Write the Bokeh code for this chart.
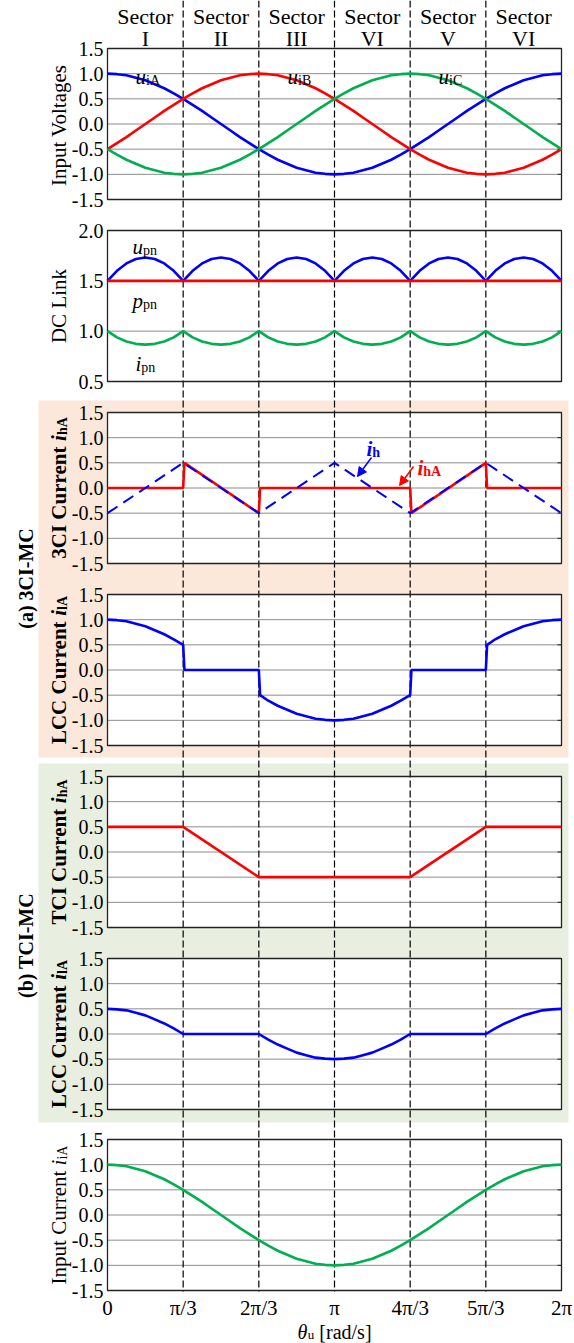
import math
from bokeh.plotting import figure
from bokeh.models import Range1d, Arrow, NormalHead
from bokeh.core.properties import value
from bokeh.embed import file_html
from bokeh.resources import INLINE

# ---------------------------------------------------------------- data
theta = [0, 7.5, 15, 22.5, 30, 37.5, 45, 52.5, 60, 67.5, 75, 82.5, 90, 97.5, 105, 112.5,
         120, 127.5, 135, 142.5, 150, 157.5, 165, 172.5, 180, 187.5, 195, 202.5, 210, 217.5,
         225, 232.5, 240, 247.5, 255, 262.5, 270, 277.5, 285, 292.5, 300, 307.5, 315, 322.5,
         330, 337.5, 345, 352.5, 360]

u_iA = [1.00, 0.99, 0.97, 0.92, 0.87, 0.79, 0.71, 0.61, 0.50, 0.38, 0.26, 0.13, 0.00, -0.13,
        -0.26, -0.38, -0.50, -0.61, -0.71, -0.79, -0.87, -0.92, -0.97, -0.99, -1.00, -0.99,
        -0.97, -0.92, -0.87, -0.79, -0.71, -0.61, -0.50, -0.38, -0.26, -0.13, 0.00, 0.13, 0.26,
        0.38, 0.50, 0.61, 0.71, 0.79, 0.87, 0.92, 0.97, 0.99, 1.00]
u_iB = [-0.50, -0.38, -0.26, -0.13, 0.00, 0.13, 0.26, 0.38, 0.50, 0.61, 0.71, 0.79, 0.87, 0.92,
        0.97, 0.99, 1.00, 0.99, 0.97, 0.92, 0.87, 0.79, 0.71, 0.61, 0.50, 0.38, 0.26, 0.13, 0.00,
        -0.13, -0.26, -0.38, -0.50, -0.61, -0.71, -0.79, -0.87, -0.92, -0.97, -0.99, -1.00,
        -0.99, -0.97, -0.92, -0.87, -0.79, -0.71, -0.61, -0.50]
u_iC = [-0.50, -0.61, -0.71, -0.79, -0.87, -0.92, -0.97, -0.99, -1.00, -0.99, -0.97, -0.92,
        -0.87, -0.79, -0.71, -0.61, -0.50, -0.38, -0.26, -0.13, 0.00, 0.13, 0.26, 0.38, 0.50,
        0.61, 0.71, 0.79, 0.87, 0.92, 0.97, 0.99, 1.00, 0.99, 0.97, 0.92, 0.87, 0.79, 0.71,
        0.61, 0.50, 0.38, 0.26, 0.13, 0.00, -0.13, -0.26, -0.38, -0.50]

u_pn = [1.500, 1.600, 1.673, 1.717, 1.732, 1.717, 1.673, 1.600,
        1.500, 1.600, 1.673, 1.717, 1.732, 1.717, 1.673, 1.600,
        1.500, 1.600, 1.673, 1.717, 1.732, 1.717, 1.673, 1.600,
        1.500, 1.600, 1.673, 1.717, 1.732, 1.717, 1.673, 1.600,
        1.500, 1.600, 1.673, 1.717, 1.732, 1.717, 1.673, 1.600,
        1.500, 1.600, 1.673, 1.717, 1.732, 1.717, 1.673, 1.600, 1.500]
i_pn = [1.000, 0.938, 0.897, 0.874, 0.866, 0.874, 0.897, 0.938,
        1.000, 0.938, 0.897, 0.874, 0.866, 0.874, 0.897, 0.938,
        1.000, 0.938, 0.897, 0.874, 0.866, 0.874, 0.897, 0.938,
        1.000, 0.938, 0.897, 0.874, 0.866, 0.874, 0.897, 0.938,
        1.000, 0.938, 0.897, 0.874, 0.866, 0.874, 0.897, 0.938,
        1.000, 0.938, 0.897, 0.874, 0.866, 0.874, 0.897, 0.938, 1.000]
p_pn_theta = [0, 360]
p_pn = [1.5, 1.5]

# 3CI-MC: injected current reference and phase-A injected current
i_h_theta = [0, 60, 120, 180, 240, 300, 360]
i_h = [-0.5, 0.5, -0.5, 0.5, -0.5, 0.5, -0.5]
i_hA3_theta = [0, 60, 61, 120, 121, 240, 241, 300, 301, 360]
i_hA3 = [0.0, 0.0, 0.5, -0.5, 0.0, 0.0, -0.5, 0.5, 0.0, 0.0]

# 3CI-MC: LCC phase-A current
i_lA3_theta = [0, 7.5, 15, 22.5, 30, 37.5, 45, 52.5, 60, 61, 120,
               121, 127.5, 135, 142.5, 150, 157.5, 165, 172.5, 180, 187.5, 195, 202.5, 210,
               217.5, 225, 232.5, 240, 241, 300,
               301, 307.5, 315, 322.5, 330, 337.5, 345, 352.5, 360]
i_lA3 = [1.00, 0.99, 0.97, 0.92, 0.87, 0.79, 0.71, 0.61, 0.50, 0.00, 0.00,
         -0.50, -0.61, -0.71, -0.79, -0.87, -0.92, -0.97, -0.99, -1.00, -0.99, -0.97, -0.92,
         -0.87, -0.79, -0.71, -0.61, -0.50, 0.00, 0.00,
         0.50, 0.61, 0.71, 0.79, 0.87, 0.92, 0.97, 0.99, 1.00]

# TCI-MC: injected current and LCC phase-A current
i_hAT_theta = [0, 60, 120, 240, 300, 360]
i_hAT = [0.5, 0.5, -0.5, -0.5, 0.5, 0.5]
i_lAT_theta = [0, 7.5, 15, 22.5, 30, 37.5, 45, 52.5, 60,
               120, 127.5, 135, 142.5, 150, 157.5, 165, 172.5, 180, 187.5, 195, 202.5, 210,
               217.5, 225, 232.5, 240,
               300, 307.5, 315, 322.5, 330, 337.5, 345, 352.5, 360]
i_lAT = [0.50, 0.49, 0.47, 0.42, 0.37, 0.29, 0.21, 0.11, 0.00,
         0.00, -0.11, -0.21, -0.29, -0.37, -0.42, -0.47, -0.49, -0.50, -0.49, -0.47, -0.42,
         -0.37, -0.29, -0.21, -0.11, 0.00,
         0.00, 0.11, 0.21, 0.29, 0.37, 0.42, 0.47, 0.49, 0.50]

# input phase-A current
i_iA = [1.00, 0.99, 0.97, 0.92, 0.87, 0.79, 0.71, 0.61, 0.50, 0.38, 0.26, 0.13, 0.00, -0.13,
        -0.26, -0.38, -0.50, -0.61, -0.71, -0.79, -0.87, -0.92, -0.97, -0.99, -1.00, -0.99,
        -0.97, -0.92, -0.87, -0.79, -0.71, -0.61, -0.50, -0.38, -0.26, -0.13, 0.00, 0.13, 0.26,
        0.38, 0.50, 0.61, 0.71, 0.79, 0.87, 0.92, 0.97, 0.99, 1.00]

sector_theta = [30, 90, 150, 210, 270, 330]
sector_names = ["I", "II", "III", "VI", "V", "VI"]
boundary_theta = [60, 120, 180, 240, 300]
xtick_theta = [0, 60, 120, 180, 240, 300, 360]
xtick_labels = ["0", "\u03c0/3", "2\u03c0/3", "\u03c0", "4\u03c0/3", "5\u03c0/3", "2\u03c0"]
ticks_pm = [-1.5, -1.0, -0.5, 0.0, 0.5, 1.0, 1.5]
ticks_dc = [0.5, 1.0, 1.5, 2.0]

# ---------------------------------------------------------------- layout
W, H = 574, 1343
X0, X1 = 107, 561
PANEL_TOP = [48, 230, 412, 594, 776, 958, 1139]
PANEL_H = 151
FONT = "Liberation Serif"
BLUE, RED, GREEN = "#0000FF", "#FF0000", "#00B050"
ORANGE_BG, GREEN_BG = "#FBE8DA", "#E8EFE0"

ppx = (X1 - X0) / 360.0
p = figure(width=W, height=H, output_backend="svg", toolbar_location=None,
           x_range=Range1d(-X0 / ppx, 360 + (W - X1) / ppx), y_range=Range1d(0, H),
           x_axis_location=None, y_axis_location=None, min_border=0,
           outline_line_color=None, background_fill_color="white",
           border_fill_color="white")
p.grid.visible = False
p.extra_x_ranges = {"px": Range1d(0, W)}


def Y(top):
    """Convert a distance from the top of the page into the bottom-up y range."""
    return H - top


panels = [("p1", -1.5, 1.5, ticks_pm), ("p2", 0.5, 2.0, ticks_dc),
          ("p3", -1.5, 1.5, ticks_pm), ("p4", -1.5, 1.5, ticks_pm),
          ("p5", -1.5, 1.5, ticks_pm), ("p6", -1.5, 1.5, ticks_pm),
          ("p7", -1.5, 1.5, ticks_pm)]
for (name, lo, hi, _), top in zip(panels, PANEL_TOP):
    bot = top + PANEL_H
    ppu = (bot - top) / (hi - lo)
    p.extra_y_ranges[name] = Range1d(lo - (H - bot) / ppu, hi + top / ppu)

# text width tables (per 1000 em) for composing mixed-style labels
_W = {
    "normal": {" ": 250, "(": 333, ")": 333, "-": 333, ".": 250, "/": 278, "[": 333, "]": 333,
               "A": 722, "B": 667, "C": 667, "D": 722, "I": 333, "L": 611, "V": 722,
               "a": 444, "c": 444, "d": 500, "e": 444, "g": 500, "h": 500, "i": 278, "k": 500,
               "l": 278, "n": 500, "o": 500, "p": 500, "r": 333, "s": 389, "t": 278, "u": 500},
    "bold": {" ": 250, "(": 333, ")": 333, "-": 333, "A": 722, "C": 722, "I": 389, "L": 667,
             "M": 944, "T": 667, "a": 500, "b": 556, "e": 444, "h": 556, "i": 278, "l": 278,
             "n": 556, "r": 444, "t": 333, "u": 556},
    "italic": {"i": 278, "u": 500, "p": 500, "\u03b8": 520},
    "bold italic": {"i": 278},
}


def text_len(s, style, size):
    tbl = _W[style]
    return sum(tbl.get(ch, 500) for ch in s) * size / 1000.0


def rich(parts, x, y, vertical=False, color="black", anchor="center"):
    """Draw a run of text pieces (text, style, size, baseline shift) one after another.

    Leading/trailing blanks only advance the pen: SVG text collapses them."""
    total = sum(text_len(t, st, sz) for t, st, sz, _ in parts)
    pos = -total / 2.0 if anchor == "center" else 0.0
    for t, st, sz, sh in parts:
        lead = len(t) - len(t.lstrip(" "))
        pos += text_len(" " * lead, st, sz)
        core = t.strip(" ")
        if vertical:
            tx, ty, ang = x + sh, y + pos, math.pi / 2
        else:
            tx, ty, ang = x + pos, y - sh, 0.0
        p.text(x=[tx], y=[ty], text=[core], angle=ang, x_range_name="px",
               text_font=value(FONT), text_font_size=f"{sz}px", text_font_style=st,
               text_color=color, text_align="left", text_baseline="alphabetic")
        pos += text_len(t.lstrip(" "), st, sz)


# group backgrounds
p.quad(left=[38, 38], right=[568, 568], top=[Y(400), Y(763)], bottom=[Y(757), Y(1122)],
       x_range_name="px", fill_color=[ORANGE_BG, GREEN_BG], line_color=None)

# panel areas, grid lines
for name, lo, hi, ticks in panels:
    p.quad(left=[0], right=[360], bottom=[lo], top=[hi], y_range_name=name,
           fill_color="white", line_color=None)
    p.segment(x0=[0] * len(ticks), x1=[360] * len(ticks), y0=ticks, y1=ticks,
              y_range_name=name, line_color="#8C8C8C", line_width=1)

# sector boundaries through the whole figure
p.segment(x0=boundary_theta, x1=boundary_theta, y0=[Y(0)] * 5, y1=[Y(1291)] * 5,
          line_color="black", line_width=1.2, line_dash="7 3")

# panel frames, right-hand tick marks and tick labels
for name, lo, hi, ticks in panels:
    p.quad(left=[0], right=[360], bottom=[lo], top=[hi], y_range_name=name,
           fill_color=None, line_color="#222222", line_width=1.3)
    p.segment(x0=[X1 - 4] * len(ticks), x1=[X1] * len(ticks), y0=ticks, y1=ticks,
              x_range_name="px", y_range_name=name, line_color="#222222", line_width=1)
    p.text(x=[103] * len(ticks), y=ticks, text=[f"{t:.1f}" for t in ticks],
           x_range_name="px", y_range_name=name, text_font=value(FONT),
           text_font_size="20px", text_font_style="normal", text_align="right",
           text_baseline="middle", text_color="black")

LW = 2.6
# panel 1: input voltages
p.line(theta, u_iA, y_range_name="p1", line_color=BLUE, line_width=LW)
p.line(theta, u_iB, y_range_name="p1", line_color=RED, line_width=LW)
p.line(theta, u_iC, y_range_name="p1", line_color=GREEN, line_width=LW)
# panel 2: DC link
p.line(theta, u_pn, y_range_name="p2", line_color=BLUE, line_width=LW)
p.line(theta, i_pn, y_range_name="p2", line_color=GREEN, line_width=LW)
p.line(p_pn_theta, p_pn, y_range_name="p2", line_color=RED, line_width=LW)
# panel 3: 3CI current
p.line(i_hA3_theta, i_hA3, y_range_name="p3", line_color=RED, line_width=LW)
p.line(i_h_theta, i_h, y_range_name="p3", line_color=BLUE, line_width=2.0, line_dash="12 7")
# panel 4: LCC current (3CI-MC)
p.line(i_lA3_theta, i_lA3, y_range_name="p4", line_color=BLUE, line_width=LW)
# panel 5: TCI current
p.line(i_hAT_theta, i_hAT, y_range_name="p5", line_color=RED, line_width=LW)
# panel 6: LCC current (TCI-MC)
p.line(i_lAT_theta, i_lAT, y_range_name="p6", line_color=BLUE, line_width=LW)
# panel 7: input current
p.line(theta, i_iA, y_range_name="p7", line_color=GREEN, line_width=LW)

# sector header
p.text(x=sector_theta, y=[Y(15.5)] * 6, text=["Sector"] * 6, text_font=value(FONT),
       text_font_size="22px", text_font_style="normal", text_align="center",
       text_baseline="middle", text_color="black")
p.text(x=sector_theta, y=[Y(37.5)] * 6, text=sector_names, text_font=value(FONT),
       text_font_size="22px", text_font_style="normal", text_align="center",
       text_baseline="middle", text_color="black")

# x tick labels and x title
p.text(x=xtick_theta, y=[Y(1307)] * 7, text=xtick_labels, text_font=value(FONT),
       text_font_size="21px", text_font_style="normal", text_align="center",
       text_baseline="middle", text_color="black")
rich([("\u03b8", "italic", 20, 0), ("u", "normal", 13, 3), (" [rad/s]", "normal", 20, 0)],
     X0 + 180 * ppx, Y(1331))

# curve labels
rich([("u", "italic", 21, 0), ("iA", "normal", 14, 4)], 135, Y(76), anchor="left")
rich([("u", "italic", 21, 0), ("iB", "normal", 14, 4)], 287, Y(76), anchor="left")
rich([("u", "italic", 21, 0), ("iC", "normal", 14, 4)], 438, Y(76), anchor="left")
rich([("u", "italic", 21, 0), ("pn", "normal", 14, 4)], 132, Y(246), anchor="left")
rich([("p", "italic", 21, 0), ("pn", "normal", 14, 4)], 132, Y(300), anchor="left")
rich([("i", "italic", 21, 0), ("pn", "normal", 14, 4)], 135, Y(363), anchor="left")
rich([("i", "bold italic", 21, 0), ("h", "bold", 14, 4)], 366, Y(448), color=BLUE,
     anchor="left")
rich([("i", "bold italic", 21, 0), ("hA", "bold", 14, 4)], 417, Y(467), color=RED,
     anchor="left")
p.add_layout(Arrow(end=NormalHead(size=9, fill_color=BLUE, line_color=BLUE),
                   x_start=371, y_start=Y(457), x_end=357, y_end=Y(476),
                   x_range_name="px", line_color=BLUE, line_width=1.5))
p.add_layout(Arrow(end=NormalHead(size=9, fill_color=RED, line_color=RED),
                   x_start=413, y_start=Y(466), x_end=399, y_end=Y(485),
                   x_range_name="px", line_color=RED, line_width=1.5))

# y titles
TX = 58
centres = [Y(t + PANEL_H / 2) for t in PANEL_TOP]
rich([("Input Voltages", "normal", 21, 0)], TX, centres[0], vertical=True)
rich([("DC Link", "normal", 21, 0)], TX, centres[1], vertical=True)
rich([("3CI Current ", "bold", 21, 0), ("i", "bold italic", 21, 0), ("hA", "bold", 14, 4)],
     TX, centres[2], vertical=True)
rich([("LCC Current ", "bold", 21, 0), ("i", "bold italic", 21, 0), ("lA", "bold", 14, 4)],
     TX, centres[3], vertical=True)
rich([("TCI Current ", "bold", 21, 0), ("i", "bold italic", 21, 0), ("hA", "bold", 14, 4)],
     TX, centres[4], vertical=True)
rich([("LCC Current ", "bold", 21, 0), ("i", "bold italic", 21, 0), ("lA", "bold", 14, 4)],
     TX, centres[5], vertical=True)
rich([("Input Current ", "normal", 21, 0), ("i", "italic", 21, 0), ("iA", "normal", 14, 4)],
     TX, centres[6], vertical=True)

# group labels
rich([("(a) 3CI-MC", "bold", 20, 0)], 25, Y(578), vertical=True)
rich([("(b) TCI-MC", "bold", 20, 0)], 25, Y(945), vertical=True)

open("out.html", "w").write(file_html(p, INLINE))
